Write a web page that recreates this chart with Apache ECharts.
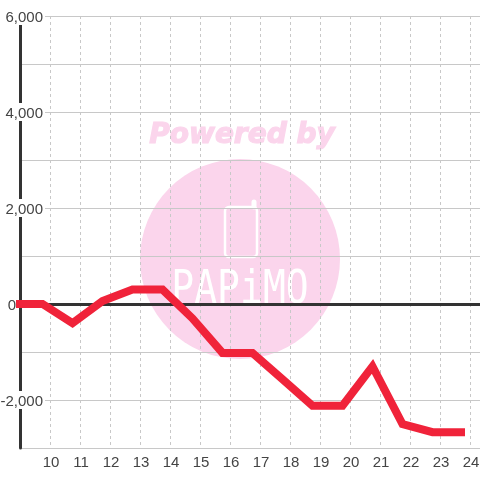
<!DOCTYPE html>
<html><head><meta charset="utf-8">
<style>html,body{margin:0;padding:0;background:#fff}#c{width:480px;height:480px}</style>
<script src="https://cdn.jsdelivr.net/npm/echarts@6/dist/echarts.min.js"></script></head>
<body><div id="c"></div>
<script>
const hours = [9, 9.75, 10.75, 11.75, 12.75, 13.75, 14.75, 15.75, 16.75, 17.75, 18.75, 19.75, 20.75, 21.75, 22.75, 23.7];
const values = [0, 0, -400, 60, 300, 300, -300, -1020, -1020, -1570, -2120, -2120, -1300, -2500, -2670, -2670];
const yLabels = { '6000': '6,000', '4000': '4,000', '2000': '2,000', '-2000': '-2,000' };
const xLabels = [10, 11, 12, 13, 14, 15, 16, 17, 18, 19, 20, 21, 22, 23, 24];
const pink = '#fbd5ec', textColor = '#444444', gridColor = '#c8c8c8', axisColor = '#333333', red = '#f0233a';

const chart = echarts.init(document.getElementById('c'), null, { renderer: 'canvas', width: 480, height: 480 });
chart.setOption({
  animation: false,
  backgroundColor: '#ffffff',
  textStyle: { fontFamily: '"Liberation Sans"' },
  graphic: { elements: [
    { type: 'circle', z: -10, shape: { cx: 240, cy: 259, r: 100 }, style: { fill: pink } },
    { type: 'text', z: -10, x: 242, y: 136, style: { text: 'Powered by', fill: pink, stroke: pink, lineWidth: 1.2, align: 'center', verticalAlign: 'middle',
      font: 'italic bold 28px "DejaVu Sans"' } },
    { type: 'rect', z: -9, shape: { x: 225, y: 207, width: 32, height: 50, r: 4 }, style: { fill: 'none', stroke: '#fff', lineWidth: 2.5 } },
    { type: 'line', z: -9, shape: { x1: 254, y1: 207, x2: 254, y2: 202 }, style: { stroke: '#fff', lineWidth: 5, lineCap: 'round' } },
    { type: 'text', z: -9, x: 240, y: 291, scaleY: 1.2, style: { text: 'PAPiMO', fill: '#fff', align: 'center', verticalAlign: 'middle',
      font: '38px "DejaVu Sans Mono"' } }
  ] },
  grid: { left: 20, right: 0, top: 16, bottom: 32, outerBoundsMode: 'none' },
  xAxis: [{
    type: 'value', min: 9, max: 24.3333, interval: 1, position: 'bottom',
    axisLine: { show: false, onZero: false }, axisTick: { show: false },
    axisLabel: { color: textColor, fontSize: 15, margin: 7, padding: [0, 0, 0, 2], showMinLabel: false, showMaxLabel: false,
      formatter: v => xLabels.includes(v) ? String(v) : '' },
    splitLine: { show: true, lineStyle: { color: gridColor, type: [3, 3], width: 1 } }
  }, {
    type: 'value', min: 9, max: 24.3333, interval: 1, position: 'bottom',
    axisLine: { show: true, onZero: true, lineStyle: { color: axisColor, width: 3 } },
    axisTick: { show: false }, axisLabel: { show: false }, splitLine: { show: false }
  }],
  yAxis: {
    type: 'value', min: -3000, max: 6000, interval: 1000, position: 'left',
    axisLine: { show: true, onZero: false, lineStyle: { color: axisColor, width: 3 } },
    axisTick: { show: false },
    axisLabel: { margin: -25, align: 'right', color: textColor, fontSize: 15,
      formatter: v => v === 0 ? '{z|0}' : (yLabels[v] ? '{n|' + yLabels[v] + '}' : ''),
      rich: {
        n: { color: textColor, fontSize: 15, backgroundColor: '#fff', padding: [3, 2, 0, 0], lineHeight: 15 },
        z: { color: textColor, fontSize: 15, padding: [3, 29, 0, 0], lineHeight: 15 }
      } },
    splitLine: { show: true, lineStyle: { color: gridColor, width: 1 } }
  },
  series: [{
    type: 'line', xAxisIndex: 0, clip: false, symbol: 'none', z: 5,
    lineStyle: { color: red, width: 8, cap: 'square', join: 'miter' },
    data: hours.map((h, i) => [h, values[i]])
  }]
});
</script></body></html>
